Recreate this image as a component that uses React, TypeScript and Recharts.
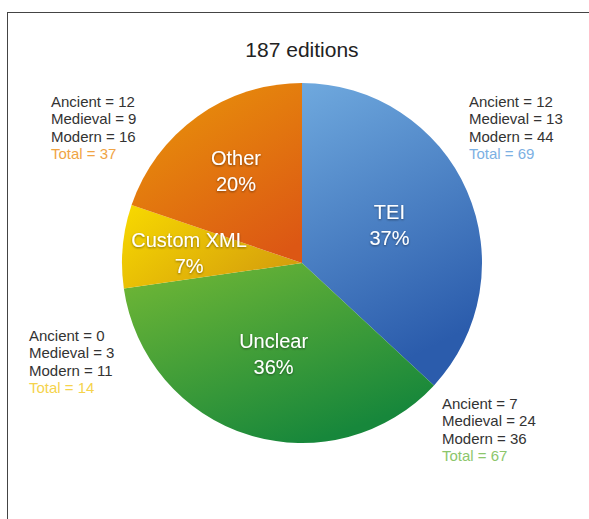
import React from 'react'
import { PieChart, Pie, Cell } from 'recharts'

const categories = ['TEI', 'Unclear', 'Custom XML', 'Other']
const totals = [69, 67, 14, 37]
const ancient = [12, 7, 0, 12]
const medieval = [13, 24, 3, 9]
const modern = [44, 36, 11, 16]
const percentLabels = ['37%', '36%', '7%', '20%']
const title = '187 editions'

const data = categories.map((name, i) => ({ name, value: totals[i] }))
const sum = totals.reduce((a, b) => a + b, 0)

const RADIAN = Math.PI / 180
const font = '"Liberation Sans", Arial, sans-serif'

// gradient stops per slice, and colour of the "Total" line
const fills = [
  { id: 'gTEI', x1: 0, y1: 0, x2: 0.3, y2: 1, from: '#6fa9de', to: '#2b5cac' },
  { id: 'gUnclear', x1: 0, y1: 0, x2: 0.6, y2: 1, from: '#74b935', to: '#17873b' },
  { id: 'gCustom', x1: 0, y1: 0, x2: 1, y2: 0.6, from: '#f8da00', to: '#d6a00c' },
  { id: 'gOther', x1: 0.2, y1: 0, x2: 0.8, y2: 1, from: '#e8920a', to: '#dc5714' }
]
const totalColors = ['#7cb0e3', '#8cc66b', '#f5d34c', '#f0a444']

// where each side note sits (left x, first baseline)
const notePos = [
  { x: 469, y: 107 },
  { x: 442, y: 409 },
  { x: 29, y: 341 },
  { x: 51, y: 107 }
]

const renderLabel = (props: any) => {
  const { cx, cy, midAngle, outerRadius, index } = props
  const share = totals[index] / sum
  const r = outerRadius * (share > 0.25 ? 0.53 : 0.63)
  const x = cx + r * Math.cos(-midAngle * RADIAN)
  const y = cy + r * Math.sin(-midAngle * RADIAN)
  const p = notePos[index]
  const lines = [
    `Ancient = ${ancient[index]}`,
    `Medieval = ${medieval[index]}`,
    `Modern = ${modern[index]}`
  ]
  return (
    <g>
      <text
        x={x}
        y={y}
        textAnchor='middle'
        fill='#fff'
        fontFamily={font}
        fontSize={20}
        filter='url(#txtShadow)'
      >
        <tspan x={x} y={y - 6}>{categories[index]}</tspan>
        <tspan x={x} y={y + 20}>{percentLabels[index]}</tspan>
      </text>
      <text x={p.x} y={p.y} fontFamily={font} fontSize={15} fill='#333'>
        {lines.map((l, k) => (
          <tspan key={k} x={p.x} y={p.y + k * 17.3}>{l}</tspan>
        ))}
        <tspan x={p.x} y={p.y + 3 * 17.3} fill={totalColors[index]}>
          {`Total = ${totals[index]}`}
        </tspan>
      </text>
    </g>
  )
}

export default function App() {
  return (
    <div style={{ position: 'absolute', left: 0, top: 0, width: 589, height: 519, background: '#fff' }}>
      <div
        style={{
          position: 'absolute',
          left: 7,
          top: 12,
          width: 582,
          height: 507,
          borderTop: '1.5px solid #444',
          borderLeft: '1.5px solid #444'
        }}
      />
      <PieChart
        width={589}
        height={519}
        margin={{ top: 0, right: 0, bottom: 0, left: 0 }}
        style={{ position: 'absolute', left: 0, top: 0 }}
      >
        <defs>
          {fills.map(f => (
            <linearGradient key={f.id} id={f.id} x1={f.x1} y1={f.y1} x2={f.x2} y2={f.y2}>
              <stop offset='0%' stopColor={f.from} />
              <stop offset='100%' stopColor={f.to} />
            </linearGradient>
          ))}
          <filter id='txtShadow' x='-20%' y='-20%' width='140%' height='140%'>
            <feDropShadow dx='0' dy='1' stdDeviation='1' floodColor='#000' floodOpacity='0.45' />
          </filter>
        </defs>
        <text x={302} y={57} textAnchor='middle' fontFamily={font} fontSize={21} fill='#222'>
          {title}
        </text>
        <Pie
          data={data}
          dataKey='value'
          nameKey='name'
          cx={302}
          cy={263}
          outerRadius={180}
          startAngle={90}
          endAngle={-270}
          stroke='none'
          label={renderLabel}
          labelLine={false}
          isAnimationActive={false}
        >
          {data.map((d, i) => (
            <Cell key={d.name} fill={`url(#${fills[i].id})`} />
          ))}
        </Pie>
      </PieChart>
    </div>
  )
}
